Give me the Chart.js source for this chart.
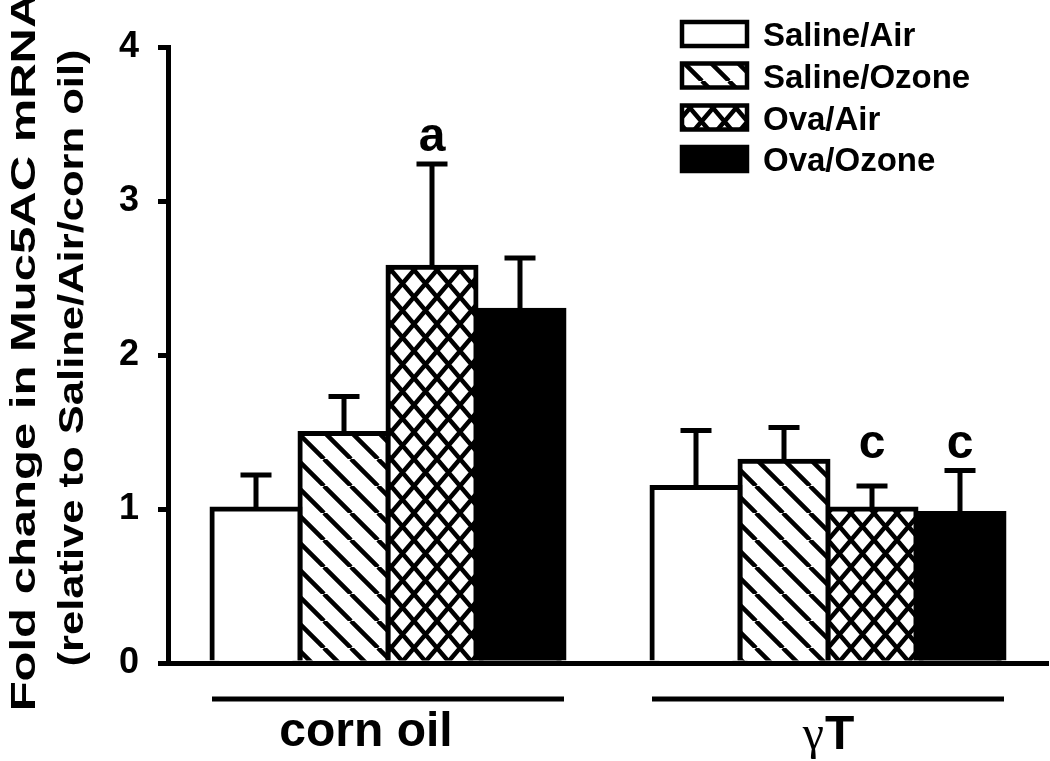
<!DOCTYPE html>
<html>
<head>
<meta charset="utf-8">
<script src="https://cdn.jsdelivr.net/npm/chart.js@4"></script>
<style>
  body { margin: 0; background: #fff; }
  canvas { display: block; }
</style>
</head>
<body>
<canvas id="myChart" width="1050" height="761"></canvas>
<script>
// Values
const categories = ['corn oil', 'γT'];
const seriesNames = ['Saline/Air', 'Saline/Ozone', 'Ova/Air', 'Ova/Ozone'];
const salineAir = [1.00, 1.14];
const salineOzone = [1.49, 1.31];
const ovaAir = [2.57, 1.00];
const ovaOzone = [2.29, 0.97];
// upper error bars (SEM)
const salineAirSem = [0.22, 0.37];
const salineOzoneSem = [0.24, 0.22];
const ovaAirSem = [0.67, 0.15];
const ovaOzoneSem = [0.34, 0.28];
// significance letters
const salineAirSig = ['', ''];
const salineOzoneSig = ['', ''];
const ovaAirSig = ['a', 'c'];
const ovaOzoneSig = ['', 'c'];
const yTicks = [0, 1, 2, 3, 4];

const seriesValues = [salineAir, salineOzone, ovaAir, ovaOzone];
const seriesSem = [salineAirSem, salineOzoneSem, ovaAirSem, ovaOzoneSem];
const seriesSig = [salineAirSig, salineOzoneSig, ovaAirSig, ovaOzoneSig];

const SANS = "'Liberation Sans', Arial, sans-serif";
Chart.defaults.font.family = SANS;
Chart.defaults.color = '#000';

// hatch patterns
function makePattern(type) {
  const w = type === 'cross' ? 23 : 27;
  const h = 27;
  const c = document.createElement('canvas');
  c.width = w; c.height = h;
  const g = c.getContext('2d');
  g.fillStyle = '#fff';
  g.fillRect(0, 0, w, h);
  g.strokeStyle = '#000';
  g.lineWidth = 4.5;
  g.beginPath();
  for (let k = -1; k <= 1; k++) {
    g.moveTo(k * w, 0); g.lineTo(k * w + w, h);
    if (type === 'cross') { g.moveTo(k * w, h); g.lineTo(k * w + w, 0); }
  }
  g.stroke();
  return g.createPattern(c, 'repeat');
}

const fills = ['#ffffff', makePattern('stripe'), makePattern('cross'), '#000000'];

// error bars + letters
const errorBars = {
  id: 'errorBars',
  afterDatasetsDraw(chart) {
    const c = chart.ctx, y = chart.scales.y;
    c.save();
    c.strokeStyle = '#000';
    c.lineWidth = 5;
    const tops = [];
    chart.data.datasets.forEach((ds, i) => {
      tops[i] = [];
      chart.getDatasetMeta(i).data.forEach((bar, j) => {
        const top = y.getPixelForValue(seriesValues[i][j] + seriesSem[i][j]);
        tops[i][j] = top;
        c.beginPath();
        c.moveTo(bar.x, bar.y);
        c.lineTo(bar.x, top);
        c.moveTo(bar.x - 15.5, top);
        c.lineTo(bar.x + 15.5, top);
        c.stroke();
      });
    });
    c.fillStyle = '#000';
    c.font = 'bold 48px ' + SANS;
    c.textAlign = 'center';
    c.textBaseline = 'alphabetic';
    categories.forEach((cat, j) => {
      let minTop = Infinity;
      seriesSig.forEach((s, i) => { if (s[j]) minTop = Math.min(minTop, tops[i][j]); });
      seriesSig.forEach((s, i) => {
        if (!s[j]) return;
        const bar = chart.getDatasetMeta(i).data[j];
        c.fillText(s[j], bar.x, minTop - 13);
      });
    });
    c.restore();
  }
};

// group underlines, group labels, legend and y title
const labelShift = [-22, 0];
const decorations = {
  id: 'decorations',
  afterDraw(chart) {
    const c = chart.ctx;
    const n = chart.data.datasets.length;
    c.save();
    c.strokeStyle = '#000';
    c.fillStyle = '#000';
    c.lineWidth = 5;
    categories.forEach((cat, j) => {
      const first = chart.getDatasetMeta(0).data[j];
      const last = chart.getDatasetMeta(n - 1).data[j];
      const x0 = first.x - first.width / 2, x1 = last.x + last.width / 2;
      c.beginPath();
      c.moveTo(x0, 699);
      c.lineTo(x1, 699);
      c.stroke();
      const cx = chart.scales.x.getPixelForValue(j) + labelShift[j];
      c.textBaseline = 'alphabetic';
      if (cat.startsWith('γ')) {
        const gFont = "48px 'Liberation Serif', 'DejaVu Serif', serif";
        const tFont = 'bold 48px ' + SANS;
        c.font = gFont; const gw = c.measureText('γ').width;
        c.font = tFont; const tw = c.measureText(cat.slice(1)).width;
        const start = cx - (gw + tw) / 2;
        c.textAlign = 'left';
        c.font = gFont; c.fillText('γ', start, 749);
        c.font = tFont; c.fillText(cat.slice(1), start + gw + 1, 749);
      } else {
        c.textAlign = 'center';
        c.font = 'bold 48px ' + SANS;
        c.fillText(cat, cx, 746);
      }
    });

    // legend
    const boxTops = [20, 61.5, 103.5, 145];
    c.lineWidth = 4.5;
    chart.data.datasets.forEach((ds, i) => {
      const bx = 682, by = boxTops[i] + 2, bw = 65, bh = 24;
      c.fillStyle = ds.backgroundColor;
      c.fillRect(bx, by, bw, bh);
      c.strokeRect(bx, by, bw, bh);
      c.fillStyle = '#000';
      c.font = 'bold 33px ' + SANS;
      c.textAlign = 'left';
      c.fillText(ds.label, 763, by + bh / 2 + 12);
    });

    // rotated y title, stretched along its length
    const drawRot = (text, x, y, sx) => {
      c.save();
      c.translate(x, y);
      c.rotate(-Math.PI / 2);
      c.scale(sx, 1);
      c.font = 'bold 35px ' + SANS;
      c.textAlign = 'center';
      c.textBaseline = 'alphabetic';
      c.fillText(text, 0, 0);
      c.restore();
    };
    drawRot('Fold change in Muc5AC mRNA', 35, 352, 1.40);
    drawRot('(relative to Saline/Air/corn oil)', 83, 358, 1.244);
    c.restore();
  }
};

const myChart = new Chart(document.getElementById('myChart').getContext('2d'), {
  type: 'bar',
  data: {
    labels: categories,
    datasets: seriesNames.map((name, i) => ({
      label: name,
      data: seriesValues[i],
      backgroundColor: fills[i],
      borderColor: '#000',
      borderWidth: 5,
      inflateAmount: 2.5,
      categoryPercentage: 0.8,
      barPercentage: 1.0
    }))
  },
  options: {
    responsive: false,
    animation: false,
    layout: { padding: { top: 47, right: 2, left: 0, bottom: 0 } },
    plugins: {
      legend: { display: false },
      tooltip: { enabled: false }
    },
    scales: {
      x: {
        z: 1,
        grid: { display: false },
        ticks: { display: false },
        border: { display: true, color: '#000', width: 5 },
        afterFit: (s) => { s.height = 98; }
      },
      y: {
        min: 0,
        max: 4,
        afterBuildTicks: (s) => { s.ticks = yTicks.map(v => ({ value: v })); },
        grid: { drawOnChartArea: false, drawTicks: true, tickLength: 10, color: '#000', lineWidth: 5 },
        border: { display: true, color: '#000', width: 5 },
        ticks: { padding: 19, color: '#000', font: { size: 36, weight: 'bold' } },
        afterFit: (s) => { s.width = 168; }
      }
    }
  },
  plugins: [errorBars, decorations]
});
</script>
</body>
</html>
